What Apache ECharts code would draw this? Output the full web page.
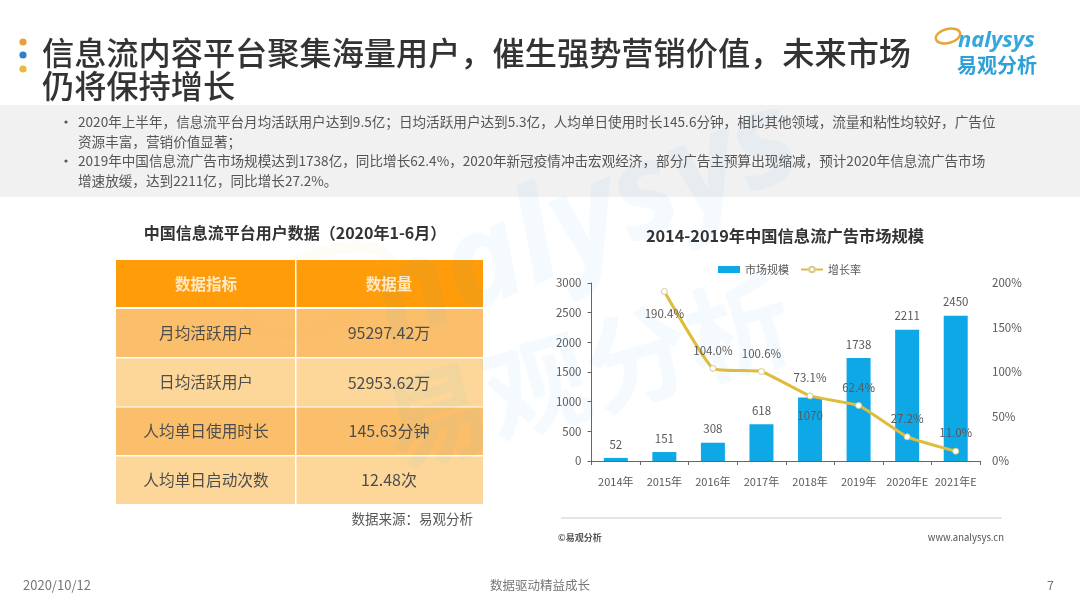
<!DOCTYPE html>
<html><head><meta charset="utf-8">
<style>html,body{margin:0;padding:0;background:#fff}#c{width:1080px;height:608px}</style>
<script src="https://cdn.jsdelivr.net/npm/echarts@6/dist/echarts.min.js"></script>
</head><body><div id="c"></div>
<script>
const categories = ['2014年','2015年','2016年','2017年','2018年','2019年','2020年E','2021年E'];
const marketSize = [52,151,308,618,1070,1738,2211,2450];
const growthRate = [null,190.4,104.0,100.6,73.1,62.4,27.2,11.0];
const seriesNames = ['市场规模','增长率'];
const titleLines = ['信息流内容平台聚集海量用户，催生强势营销价值，未来市场','仍将保持增长'];
const bodyLines = [
 '2020年上半年，信息流平台月均活跃用户达到9.5亿；日均活跃用户达到5.3亿，人均单日使用时长145.6分钟，相比其他领域，流量和粘性均较好，广告位',
 '资源丰富，营销价值显著；',
 '2019年中国信息流广告市场规模达到1738亿，同比增长62.4%，2020年新冠疫情冲击宏观经济，部分广告主预算出现缩减，预计2020年信息流广告市场',
 '增速放缓，达到2211亿，同比增长27.2%。'];
const tableHeader = ['数据指标','数据量'];
const tableNames = ['月均活跃用户','日均活跃用户','人均单日使用时长','人均单日启动次数'];
const tableValues = ['95297.42万','52953.62万','145.63分钟','12.48次'];

const FF = '"Noto Sans CJK SC","Noto Sans",sans-serif';
const txt = (x,y,text,size,fill,extra={}) => ({type:'text',x,y,z:extra.z??5,rotation:extra.rotation||0,silent:true,
  style:{text,fontSize:size,fill,fontFamily:extra.family||FF,fontWeight:extra.weight||'normal',fontStyle:extra.italic?'italic':'normal',
  align:extra.align||'left',verticalAlign:'middle',opacity:extra.opacity??1}});
const rect = (x,y,w,h,fill,z=1) => ({type:'rect',silent:true,z,shape:{x,y,width:w,height:h},style:{fill}});
const els = [];
// grey band
els.push(rect(0,105,1080,92,'#f1f1f1',-5));
// watermark
els.push(txt(376,312,'nalysys',130,'#2aa0dc',{z:1.5,rotation:0.4,opacity:.05,weight:'bold',italic:true,family:'"Noto Sans",sans-serif'}));
els.push(txt(385,430,'易观分析',105,'#2aa0dc',{z:1.5,rotation:0.28,opacity:.05,weight:'bold'}));
els.push({type:'ellipse',silent:true,z:1.5,rotation:0.4,x:320,y:290,shape:{cx:0,cy:0,rx:75,ry:35},style:{fill:'none',stroke:'#e9a63c',lineWidth:12,opacity:.04}});
// bullets
[['#e8a03a',42],['#2f80c4',55],['#e8b93a',69]].forEach(([c,y])=>els.push({type:'circle',silent:true,z:5,shape:{cx:23,cy:y,r:3.6},style:{fill:c}}));
// title
els.push(txt(42,53,titleLines[0],32.2,'#333333',{weight:500}));
els.push(txt(42,86,titleLines[1],32.2,'#333333',{weight:500}));
// logo
els.push({type:'ellipse',silent:true,z:5,rotation:0.25,x:948,y:36,shape:{cx:0,cy:0,rx:12.5,ry:7},style:{fill:'none',stroke:'#e8a53a',lineWidth:2.4}});
els.push(txt(958,41,'nalysys',22,'#35a7dc',{weight:'bold',italic:true,family:'"Noto Sans",sans-serif'}));
els.push(txt(957,65,'易观分析',20,'#2f9fd8',{weight:'bold'}));
// body
[122,142,161,181].forEach((y,i)=>els.push(txt(78,y,bodyLines[i],13.6,'#555555')));
[122,161].forEach(y=>els.push({type:'circle',silent:true,z:5,shape:{cx:66,cy:y,r:1.6},style:{fill:'#555555'}}));
// table
els.push(txt(295,233,'中国信息流平台用户数据（2020年1-6月）',16,'#333333',{weight:'bold',align:'center'}));
els.push(rect(116,260,179,47,'#ff9c0a'));
els.push(rect(296.5,260,186.5,47,'#ff9c0a'));
els.push(txt(206,284,tableHeader[0],15.5,'#ffe9c4',{weight:'bold',align:'center'}));
els.push(txt(389,284,tableHeader[1],15.5,'#ffe9c4',{weight:'bold',align:'center'}));
const rowTop=[309,358.5,407.5,456.5], rowH=[48,48,47.5,47.5];
tableNames.forEach((n,i)=>{
  const col = i%2? '#fdd79a':'#fbbf6c';
  els.push(rect(116,rowTop[i],179,rowH[i],col));
  els.push(rect(296.5,rowTop[i],186.5,rowH[i],col));
  els.push(txt(206,rowTop[i]+rowH[i]/2,n,15.7,'#4d4d4d',{align:'center'}));
  els.push(txt(389,rowTop[i]+rowH[i]/2,tableValues[i],16,'#4d4d4d',{align:'center'}));
});
els.push(txt(473,519,'数据来源：易观分析',13.5,'#555555',{align:'right'}));
// chart title + footer of chart
els.push(txt(785,236,'2014-2019年中国信息流广告市场规模',16.3,'#333333',{weight:'bold',align:'center'}));
els.push({type:'line',silent:true,z:5,shape:{x1:561,y1:518,x2:1002,y2:518},style:{stroke:'#dddddd',lineWidth:1.5}});
els.push(txt(558,538,'©易观分析',9,'#555555',{weight:'bold'}));
els.push(txt(1004,537,'www.analysys.cn',9.5,'#555555',{align:'right'}));
// page footer
els.push(txt(23,585,'2020/10/12',13,'#777777'));
els.push(txt(540,585,'数据驱动精益成长',12.5,'#777777',{align:'center'}));
els.push(txt(1047,585,'7',12.5,'#777777'));

const axisText = {color:'#595959',fontSize:11.5,fontFamily:FF};
const lineLabelPos = growthRate.map((v,i)=> i===1 ? 'bottom':'top');
const chart = echarts.init(document.getElementById('c'),null,{width:1080,height:608});
chart.setOption({
  animation:false,
  backgroundColor:'#ffffff',
  graphic:{elements:els},
  legend:{top:259,left:713,itemGap:11,itemWidth:22,itemHeight:7,
    textStyle:{color:'#595959',fontSize:11,fontFamily:FF},
    data:[{name:seriesNames[0],icon:'rect'},{name:seriesNames[1]}]},
  grid:{left:591.5,right:100,top:283,bottom:147,containLabel:false},
  xAxis:{type:'category',data:categories,boundaryGap:true,
    axisLine:{lineStyle:{color:'#666666',width:1}},
    axisTick:{show:true,alignWithLabel:false,length:4,lineStyle:{color:'#666666'}},
    axisLabel:{...axisText,fontSize:11,margin:15,interval:0}},
  yAxis:[
    {type:'value',min:0,max:3000,interval:500,splitLine:{show:false},
     axisLine:{show:true,lineStyle:{color:'#666666'}},axisTick:{show:true,length:4,lineStyle:{color:'#666666'}},
     axisLabel:{...axisText,margin:10,formatter:v=>String(v)}},
    {type:'value',min:0,max:200,interval:50,splitLine:{show:false},
     axisLine:{show:false},axisTick:{show:false},
     axisLabel:{...axisText,margin:12,formatter:'{value}%'}}
  ],
  series:[
    {name:seriesNames[0],type:'bar',barWidth:24,yAxisIndex:0,
     itemStyle:{color:'#0fa8e6'},
     data:marketSize.map((v,i)=> i===4
        ? {value:v,label:{position:'insideTop',distance:12}}
        : v),
     label:{show:true,position:'top',distance:8,color:'#595959',fontSize:11.5,fontFamily:FF,formatter:p=>String(p.value)}},
    {name:seriesNames[1],type:'line',yAxisIndex:1,smooth:0.12,connectNulls:false,z:4,
     symbol:'circle',symbolSize:6,showSymbol:true,
     lineStyle:{color:'#e0bc3e',width:3},
     itemStyle:{color:'#ffffff',borderColor:'#d9c98a',borderWidth:1},
     data:growthRate.map((v,i)=>({value:v,label:{position:lineLabelPos[i],distance:lineLabelPos[i]==='bottom'?13:9}})),
     label:{show:true,color:'#595959',fontSize:11.5,fontFamily:FF,formatter:p=>p.value==null?'':p.value.toFixed(1)+'%'}}
  ]
});
</script></body></html>
